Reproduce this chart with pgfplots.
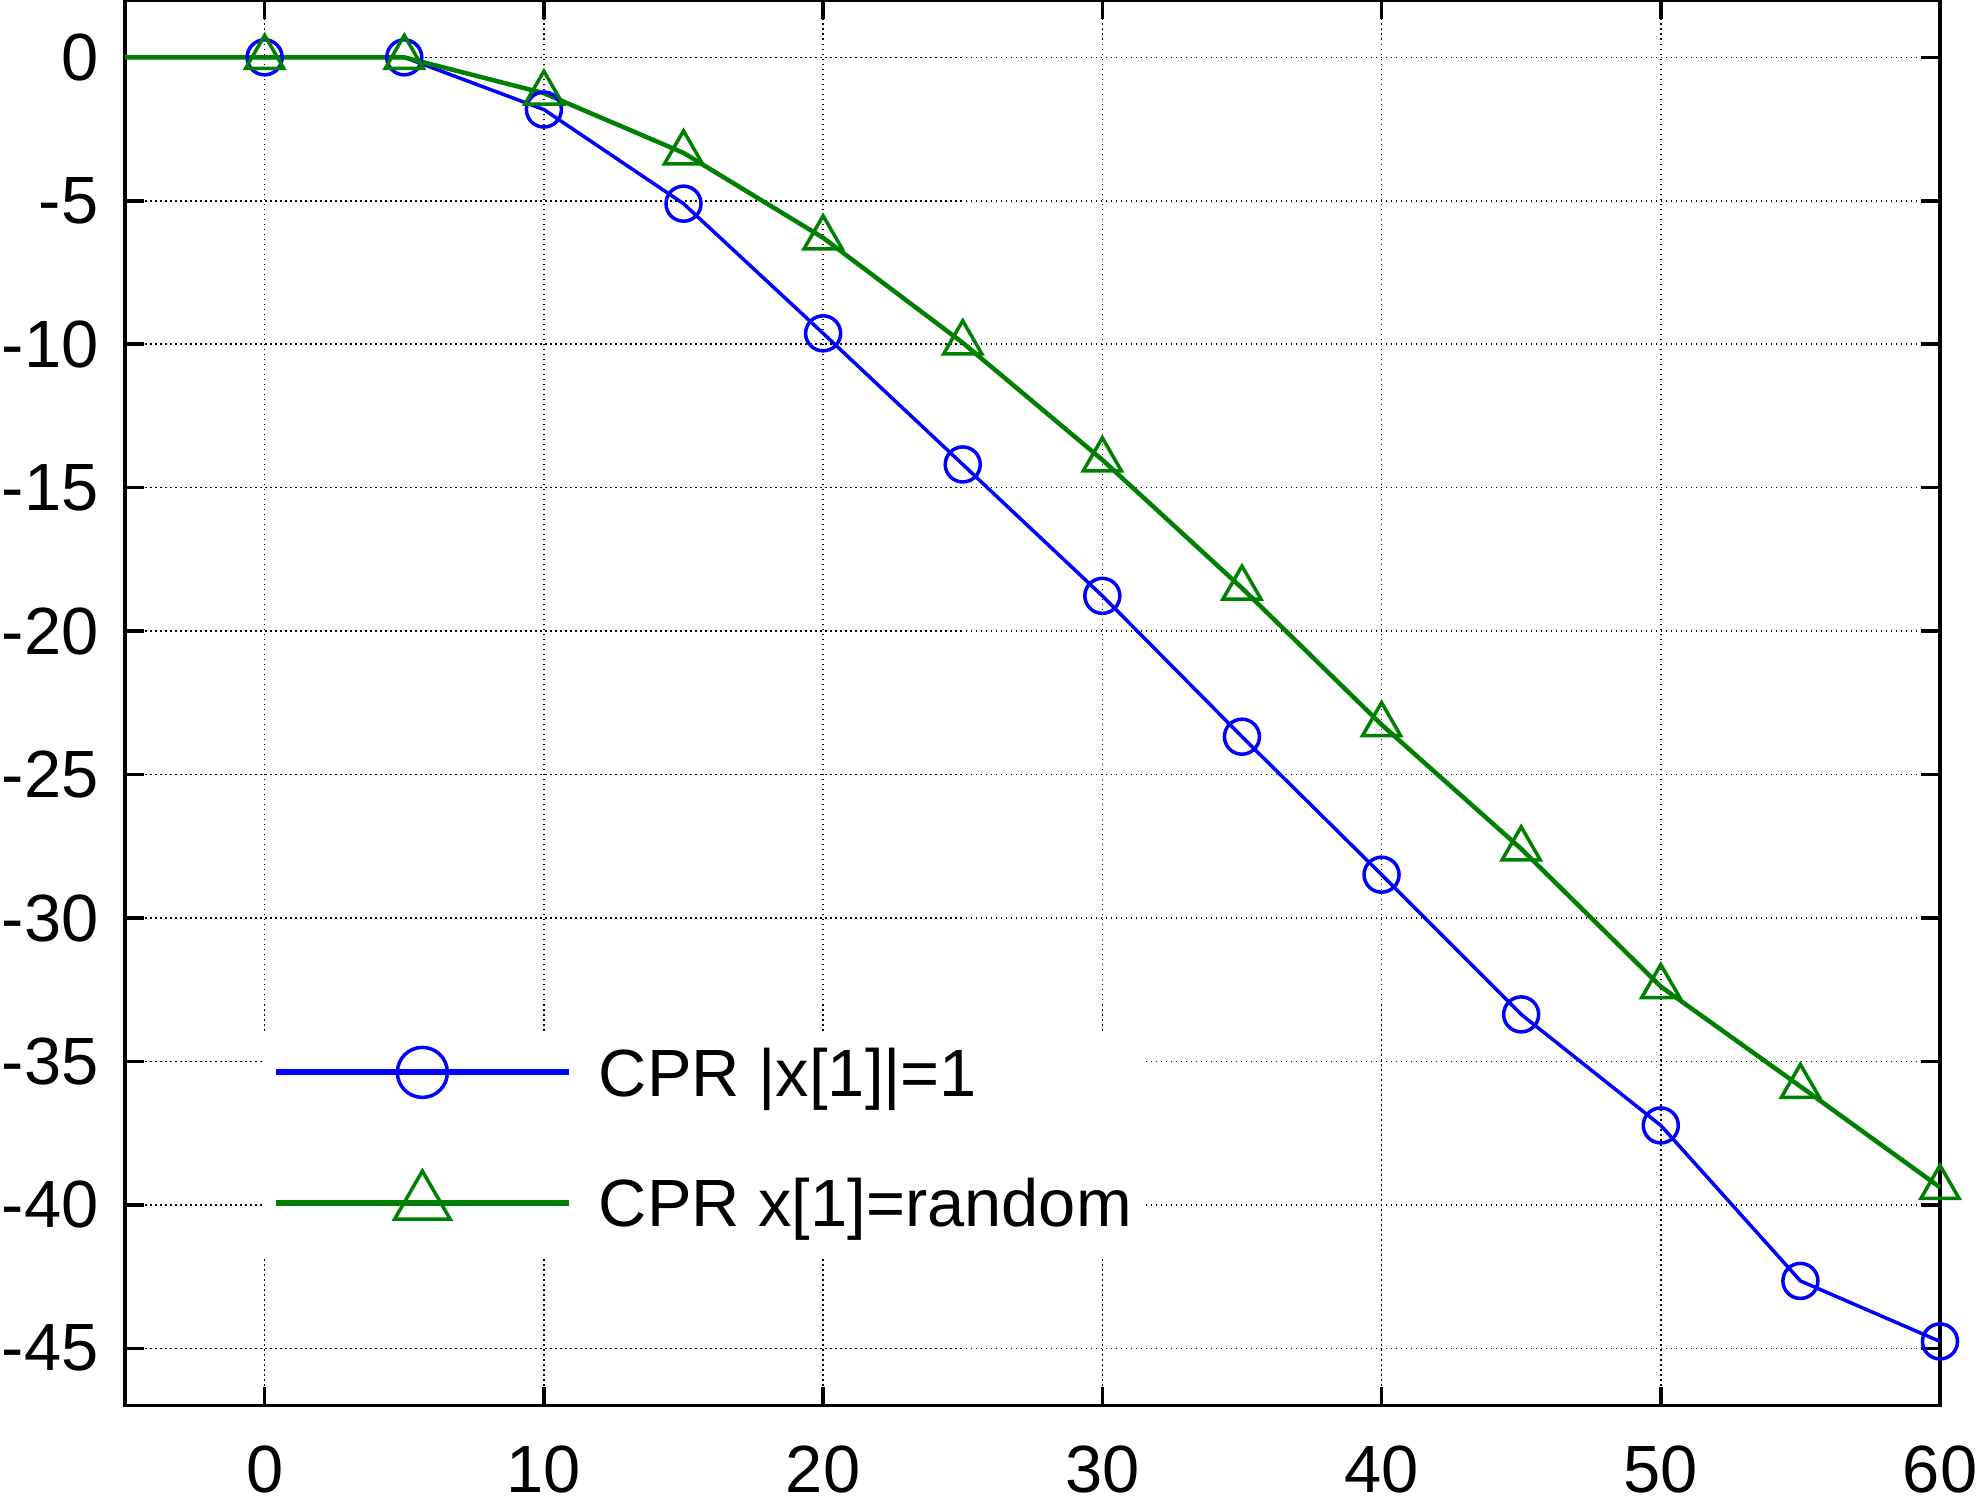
\documentclass[border=0pt]{standalone}
\usepackage{pgfplots}
\pgfplotsset{compat=1.18}
\usepackage{fontspec}
\setmainfont{Liberation Sans}
\definecolor{mblue}{rgb}{0,0,1}
\definecolor{mgreen}{rgb}{0,0.5,0}
\pgfplotstableread{
x y
-5 0
0 0
5 0
10 -1.82
15 -5.10
20 -9.62
25 -14.19
30 -18.77
35 -23.68
40 -28.49
45 -33.36
50 -37.23
55 -42.65
60 -44.76
}\blue
\pgfplotstableread{
x y
-5 0
0 0
5 0
10 -1.25
15 -3.33
20 -6.29
25 -9.95
30 -14.03
35 -18.50
40 -23.26
45 -27.59
50 -32.39
55 -35.87
60 -39.39
}\green
\begin{document}
\fontsize{19pt}{23pt}\selectfont
\begin{tikzpicture}
\begin{axis}[
  scale only axis, width=181.4mm, height=140.5mm,
  xmin=-5, xmax=60, ymin=-47, ymax=2,
  xtick={0,10,...,60}, ytick={-45,-40,...,0},
  tick pos=both, tick align=inside,
  major tick length=1.9mm,
  every tick/.style={black, line width=0.35mm},
  axis line style={line width=0.35mm},
  grid=major,
  major grid style={black, line width=0.15mm, dash pattern=on 0.15mm off 0.35mm},
  /pgf/number format/assume math mode=true,
  ticklabel style={font=\fontsize{19pt}{23pt}\selectfont, inner sep=0pt},
  xticklabel style={yshift=-3.9mm},
  yticklabel style={xshift=-2.6mm},
  clip=false,
  legend cell align=left,
  legend style={at={(axis description cs:0.0755,0.2655)}, anchor=north west,
    draw=none, fill=white, inner xsep=1.0mm, inner ysep=1.3mm,
    row sep=5.8mm, column sep=2.7mm, font=\fontsize{19pt}{23pt}\selectfont,
    nodes={inner sep=0pt, text height=0.75em, text depth=0.25em}},
]
\addplot[mblue, line width=0.35mm, mark=o, mark size=1.75mm,
  mark options={line width=0.35mm, solid},
  mark indices={2,3,4,5,6,7,8,9,10,11,12,13,14},
  legend image code/.code={\draw[line width=0.6mm, mark size=2.5mm, mark indices={2}, mark options={line width=0.35mm}]
     plot coordinates {(0mm,0.108em) (14.65mm,0.108em) (29.3mm,0.108em)};}]
  table[x=x,y=y]{\blue};
\addlegendentry{CPR |x[1]|=1}
\addplot[mgreen, line width=0.45mm, mark=triangle, mark size=2.2mm,
  mark options={line width=0.35mm, solid},
  mark indices={2,3,4,5,6,7,8,9,10,11,12,13,14},
  legend image code/.code={\draw[line width=0.6mm, mark size=3.2mm, mark indices={2}, mark options={line width=0.35mm}]
     plot coordinates {(0mm,0.108em) (14.65mm,0.108em) (29.3mm,0.108em)};}]
  table[x=x,y=y]{\green};
\addlegendentry{CPR x[1]=random}
\end{axis}
\pgfresetboundingbox
\path (current axis.south west) ++(-12.5mm,-9.6mm) rectangle ([xshift=4.5mm]current axis.north east);
\end{tikzpicture}
\end{document}
